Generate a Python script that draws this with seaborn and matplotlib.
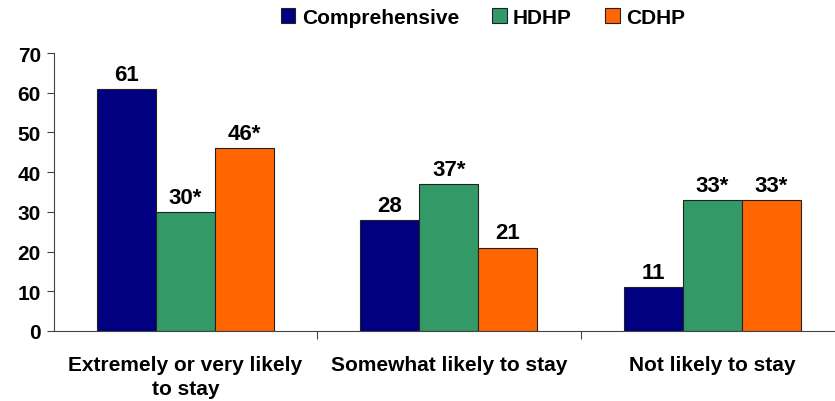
import matplotlib
matplotlib.use("Agg")
import matplotlib.pyplot as plt
import seaborn as sns
import pandas as pd
import numpy as np
from matplotlib.patches import Patch

categories = ["Extremely or very likely\nto stay", "Somewhat likely to stay", "Not likely to stay"]
series = ["Comprehensive", "HDHP", "CDHP"]
comprehensive = [61, 28, 11]
hdhp = [30, 37, 33]
cdhp = [46, 21, 33]
labels_comprehensive = ["61", "28", "11"]
labels_hdhp = ["30*", "37*", "33*"]
labels_cdhp = ["46*", "21", "33*"]
colors = ["#000080", "#339966", "#FF6600"]

rows = []
for s, vals in zip(series, [comprehensive, hdhp, cdhp]):
    for c, v in zip(categories, vals):
        rows.append({"category": c, "plan": s, "value": v})
df = pd.DataFrame(rows)

sns.set_style("white")
plt.rcParams["font.family"] = ["Liberation Sans", "DejaVu Sans"]
plt.rcParams["font.weight"] = "bold"
plt.rcParams["text.color"] = "black"
plt.rcParams["xtick.color"] = "black"
plt.rcParams["ytick.color"] = "black"
plt.rcParams["axes.labelcolor"] = "black"

fig = plt.figure(figsize=(8.35, 4.02), dpi=100)
W, H = 835, 402
x0, x1 = 53.5, 844
y0, y1 = 332, 54
ax = fig.add_axes([x0 / W, 1 - y0 / H, (x1 - x0) / W, (y0 - y1) / H])

sns.barplot(data=df, x="category", y="value", hue="plan", hue_order=series,
            palette=colors, width=0.67, edgecolor="#222222", linewidth=0.8,
            saturation=1, ax=ax, legend=False)

for cont, labs in zip(ax.containers, [labels_comprehensive, labels_hdhp, labels_cdhp]):
    ax.bar_label(cont, labels=labs, padding=3, fontsize=16, fontweight="bold", color="black")

ax.set_xlim(-0.5, 2.5)
ax.set_ylim(0, 70)
ax.set_yticks(np.arange(0, 71, 10))
ax.set_xlabel("")
ax.set_ylabel("")
for s in ["top", "right"]:
    ax.spines[s].set_visible(False)
ax.spines["left"].set_color("#444444")
ax.spines["bottom"].set_color("#444444")
ax.spines["left"].set_linewidth(0.8)
ax.spines["bottom"].set_linewidth(0.8)

ax.tick_params(axis="y", which="major", left=True, length=5, width=0.8,
               color="#444444", labelcolor="black", labelsize=15, pad=4)
ax.tick_params(axis="x", which="major", bottom=False, labelcolor="black", labelsize=15, pad=14)
ax.set_xticks([0.5, 1.5], minor=True)
ax.tick_params(axis="x", which="minor", bottom=True, length=6, width=0.8, color="#444444")
for t in ax.get_xticklabels() + ax.get_yticklabels():
    t.set_fontweight("bold")
for t in ax.get_xticklabels():
    t.set_linespacing(1.3)

handles = [Patch(facecolor=c, edgecolor="#222222", linewidth=0.8) for c in colors]
fig.legend(handles, series, loc="center", bbox_to_anchor=(483 / W, 1 - 18 / H), ncol=3,
           frameon=False, handlelength=0.7, handleheight=0.7,
           columnspacing=1.6, handletextpad=0.3, prop={"weight": "bold", "size": 15})

fig.savefig("out.png", dpi=100)
